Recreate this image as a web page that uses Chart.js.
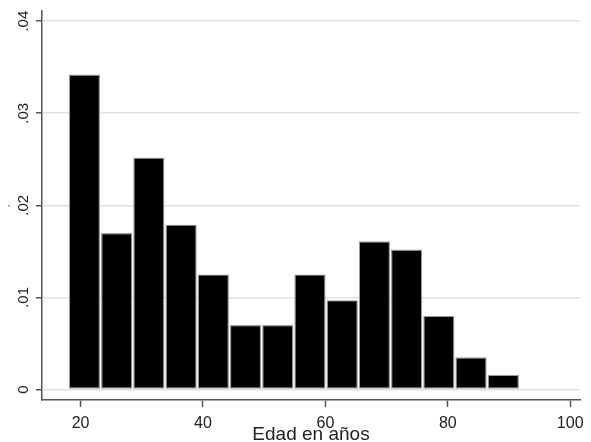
<!DOCTYPE html>
<html lang="es">
<head>
  <meta charset="UTF-8">
  <title>Edad en años - histograma</title>
  <script src="https://cdn.jsdelivr.net/npm/chart.js"></script>
  <style>
    html, body {
      margin: 0;
      padding: 0;
      background: #fff;
    }
    .wrap {
      width: 591px;
      height: 442px;
      position: relative;
    }
  </style>
</head>
<body>
  <div class="wrap">
    <canvas id="hist"></canvas>
  </div>
  <script>
    // centros de las clases (años) y densidad
    const binCenters = [20.63, 25.90, 31.16, 36.43, 41.69, 46.95, 52.22, 57.48, 62.75, 68.01, 73.27, 78.54, 83.80, 89.07];
    const density = [0.0342, 0.0170, 0.0252, 0.0179, 0.0125, 0.0070, 0.0070, 0.0125, 0.0097, 0.0161, 0.0152, 0.0080, 0.0035, 0.0016];
    const xTicks = [20, 40, 60, 80, 100];
    const yTicks = [0, 0.01, 0.02, 0.03, 0.04];
    const yTickLabels = ['0', '.01', '.02', '.03', '.04'];
    const xTitle = 'Edad en años';
    const yTitle = '´';

    const points = binCenters.map((x, i) => ({ x: x, y: density[i] }));

    new Chart(document.getElementById('hist'), {
      type: 'bar',
      data: {
        datasets: [{
          data: points,
          backgroundColor: '#000',
          borderColor: '#9a9a9a',
          borderWidth: 1.2,
          borderSkipped: false,
          barPercentage: 0.97,
          categoryPercentage: 1
        }]
      },
      options: {
        responsive: true,
        maintainAspectRatio: false,
        animation: false,
        layout: { padding: { top: 10, right: 11, left: 0, bottom: 0 } },
        plugins: { legend: { display: false }, tooltip: { enabled: false } },
        scales: {
          x: {
            type: 'linear',
            offset: false,
            min: 13.7,
            max: 101.6,
            afterBuildTicks: s => { s.ticks = xTicks.map(v => ({ value: v })); },
            afterFit: s => { s.height = 42; },
            grid: { offset: false, drawOnChartArea: false, drawTicks: true, tickLength: 7, tickColor: '#555', tickWidth: 1.5 },
            border: { color: '#555', width: 1.5 },
            ticks: {
              padding: 7,
              color: '#222',
              font: { family: '"Liberation Sans", Arial, sans-serif', size: 16 },
              callback: v => String(v)
            },
            title: {
              display: true,
              text: xTitle,
              color: '#222',
              padding: { top: 0, bottom: -4 },
              font: { family: '"Liberation Sans", Arial, sans-serif', size: 19 }
            }
          },
          y: {
            min: -0.00114,
            max: 0.0411,
            afterBuildTicks: s => { s.ticks = yTicks.map(v => ({ value: v })); },
            afterFit: s => { s.width = 42; },
            grid: { color: '#e2e2e2', lineWidth: 1.5, drawTicks: true, tickLength: 6, tickColor: '#555', tickWidth: 1.5 },
            border: { color: '#555', width: 1.5 },
            ticks: {
              padding: 2,
              minRotation: 90,
              maxRotation: 90,
              crossAlign: 'center',
              color: '#222',
              font: { family: '"Liberation Sans", Arial, sans-serif', size: 15 },
              callback: v => yTickLabels[yTicks.indexOf(v)]
            },
            title: {
              display: true,
              text: yTitle,
              color: '#222',
              padding: { top: 8, bottom: 0 },
              font: { family: '"Liberation Sans", Arial, sans-serif', size: 10 }
            }
          }
        }
      }
    });
  </script>
</body>
</html>
